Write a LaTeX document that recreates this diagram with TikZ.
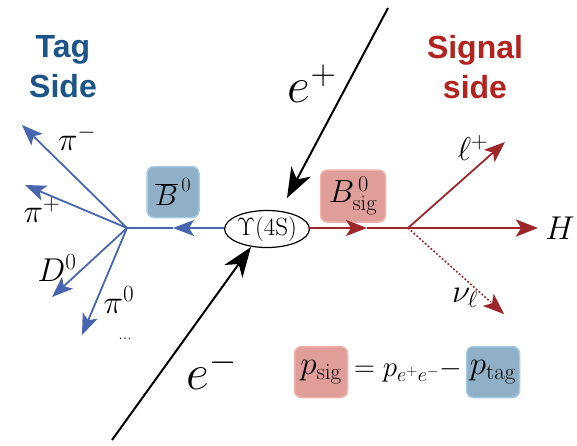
\RequirePackage{fix-cm}
\documentclass[tikz,border=0pt]{standalone}
\usepackage{fontspec}
\newfontfamily\headfont{Liberation Sans}
\usetikzlibrary{arrows.meta,shapes.geometric,calc}
\definecolor{tagblue}{RGB}{28,84,136}
\definecolor{sigred}{RGB}{178,34,30}
\definecolor{bline}{RGB}{72,102,176}
\definecolor{rline}{RGB}{158,38,42}
\definecolor{bfill}{RGB}{143,176,199}
\definecolor{bedge}{RGB}{165,203,228}
\definecolor{rfill}{RGB}{224,158,155}
\definecolor{redge}{RGB}{242,178,175}
\begin{document}
\begin{tikzpicture}[x=1pt,y=-1pt,
  bl/.style={draw=bline,line width=1.8pt},
  rl/.style={draw=rline,line width=1.8pt},
  btip/.style={-{Stealth[length=21pt,width=16pt,inset=5pt]}},
  rtip/.style={-{Stealth[length=21pt,width=16pt,inset=5pt]}},
  etip/.style={-{Stealth[length=30pt,width=22pt,inset=9pt]}},
  elec/.style={draw=black,line width=2pt},
  plab/.style={font=\fontsize{33}{35}\selectfont},
  elab/.style={font=\fontsize{50}{54}\selectfont},
  head/.style={font=\headfont\bfseries\fontsize{32}{40}\selectfont,align=center},
  bbox/.style={draw=bedge,fill=bfill,line width=1.5pt,rounded corners=7pt,inner sep=0pt},
  rbox/.style={draw=redge,fill=rfill,line width=1.5pt,rounded corners=7pt,inner sep=0pt}]
\useasboundingbox (0,0) rectangle (577,445);

% headings
\node[head,text=tagblue] (tag) at (63,67) {Tag\\Side};
\node[head,text=sigred] (sig) at (475,67) {Signal\\side};

% boxes
\node[bbox,minimum width=52pt,minimum height=51pt,font=\fontsize{29}{31}\selectfont] (bbar) at (173,192) {$\overline{B}^{\,0}$};
\node[rbox,minimum width=65pt,minimum height=52pt,font=\fontsize{32}{34}\selectfont] (bsig) at (353,196) {$B^{\,0}_{\mathrm{sig}}$};

% Upsilon
\node[ellipse,draw,line width=1.2pt,minimum width=78pt,minimum height=37pt,inner sep=0pt,font=\fontsize{25}{27}\selectfont] (ups) at (267,229) {$\Upsilon(4\mathrm{S})$};

% vertices and ends
\coordinate (vL) at (127,228);
\coordinate (vR) at (408,228);
\coordinate (bm) at (173,228);
\coordinate (rm) at (367,228);
\coordinate (pim) at (22,125);
\coordinate (pip) at (25,185);
\coordinate (dz) at (52,297);
\coordinate (piz) at (82,335);
\coordinate (lp) at (505,142);
\coordinate (hh) at (538,228);
\coordinate (nu) at (504,314);
\coordinate (ep0) at (388,8);
\coordinate (ep1) at (287,198);
\coordinate (em0) at (112,440);
\coordinate (em1) at (251,247);

% tag side
\draw[bl,btip] (ups.west |- vL) -- (bm);
\draw[bl] (bm) -- (vL);
\draw[bl,btip] (vL) -- (pim);
\draw[bl,btip] (vL) -- (pip);
\draw[bl,btip] (vL) -- (dz);
\draw[bl,btip] (vL) -- (piz);

% signal side
\draw[rl,rtip] (ups.east |- vR) -- (rm);
\draw[rl] (rm) -- (vR);
\draw[rl,rtip] (vR) -- (lp);
\draw[rl,line width=2.6pt,-{Stealth[length=22pt,width=17pt,inset=5pt]}] (vR) -- (hh);
\draw[rl,dotted,line width=1.6pt] (vR) -- ($(vR)!0.86!(nu)$) coordinate (nuend);
\draw[rl,rtip,line width=0.1pt] (nuend) -- (nu);

% beams
\draw[elec,etip] (ep0) -- (ep1);
\draw[elec,etip] (em0) -- (em1);

% labels
\node[plab] (lpim) at (77,138) {$\pi^-$};
\node[plab] (lpip) at (42,210) {$\pi^+$};
\node[plab] (ldz) at (57,268) {$D^0$};
\node[plab] (lpiz) at (119,300) {$\pi^0$};
\node[font=\fontsize{18}{20}\selectfont] (ldots) at (125,339) {...};
\node[plab] (llp) at (473,148) {$\ell^+$};
\node[plab] (lh) at (560,228) {$H$};
\node[plab] (lnu) at (465,298) {$\nu_\ell$};
\node[elab] (lep) at (312,84) {$e^+$};
\node[elab] (lem) at (212,370) {$e^-$};

% equation
\node[rbox,minimum width=53pt,minimum height=51pt,font=\fontsize{33}{35}\selectfont] (psig) at (321,372) {$p_{\mathrm{sig}}$};
\node[bbox,minimum width=53pt,minimum height=51pt,font=\fontsize{33}{35}\selectfont] (ptag) at (493,372) {$p_{\mathrm{tag}}$};
\node[font=\fontsize{29}{31}\selectfont,inner sep=0pt] (mid) at (408,371) {$=p_{e^+e^-}-$};
\end{tikzpicture}
\end{document}
